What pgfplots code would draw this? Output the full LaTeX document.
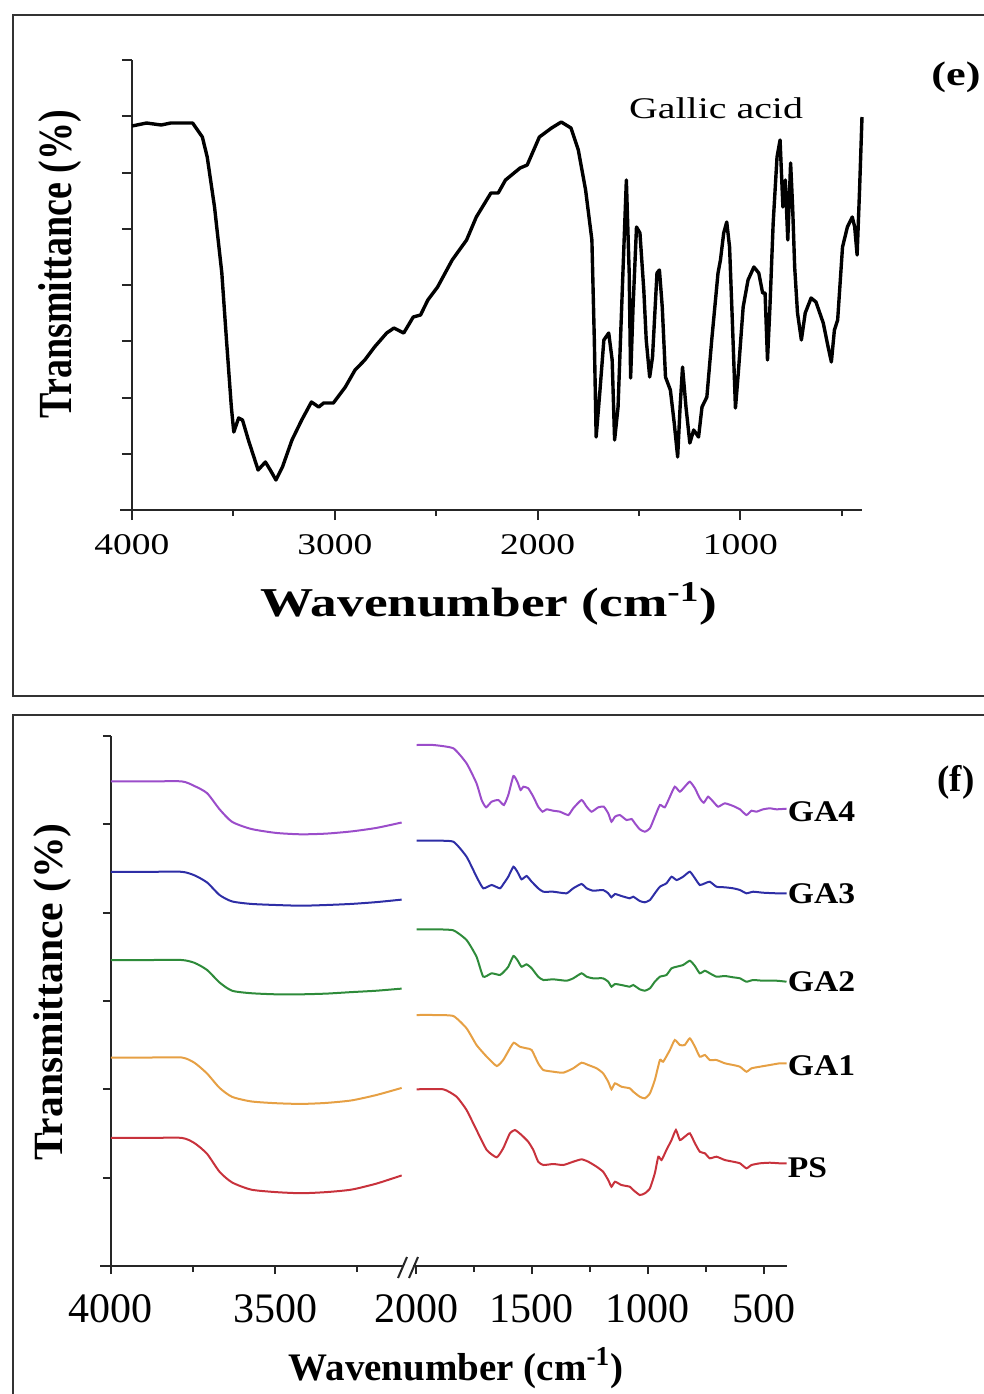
\documentclass[border=0pt]{standalone}
\usepackage{pgfplots}
\pgfplotsset{compat=1.18}
\usepackage{fontspec}
\setmainfont{Liberation Serif}
\usepackage{graphicx}
\definecolor{cGAfour}{HTML}{9B4DCA}
\definecolor{cGAthree}{HTML}{2E2EA6}
\definecolor{cGAtwo}{HTML}{2E8B3A}
\definecolor{cGAone}{HTML}{E6A044}
\definecolor{cPS}{HTML}{C8323C}
\definecolor{axc}{HTML}{262626}
\newcommand{\fsz}[1]{\fontsize{#1}{#1}\selectfont}
\pgfplotsset{
  ftstyle/.style={scale only axis, x dir=reverse,
    axis x line*=bottom,
    axis line style={line width=1.1pt, axc},
    tick align=outside, major tick length=4pt, minor tick length=3pt,
    tick style={line width=1pt, axc},
    clip=false}
}
\begin{document}
\begin{tikzpicture}
\useasboundingbox (0,0) rectangle (492pt,-697pt);
% frames
\begin{scope}[x=0.5pt,y=-0.5pt]
\draw[line width=1pt, black!80] (990,15) -- (13,15) -- (13,696) -- (990,696);
\draw[line width=1pt, black!80] (990,715) -- (13,715) -- (13,1400);
\end{scope}

% ---------------- panel (e)
\begin{axis}[ftstyle, at={(66pt,-255pt)}, anchor=south west,
  width=365pt, height=225pt,
  xmin=400, xmax=4000, ymin=0, ymax=450,
  axis y line*=left,
  xtick={1000,2000,3000,4000}, minor xtick={500,1500,2500,3500},
  xticklabels={\scalebox{1.25}[1]{1000},\scalebox{1.25}[1]{2000},\scalebox{1.25}[1]{3000},\scalebox{1.25}[1]{4000}},
  xticklabel style={font=\fsz{15pt}, anchor=north, inner sep=0pt, yshift=-7pt},
  ytick={0,56.25,112.5,168.75,225,281.25,337.5,393.75,450}, yticklabels={},
  major tick length=5pt]
\addplot[black, line width=1.7pt, line join=round] coordinates {
(4000,384) (3928,387) (3856,385) (3809,387) (3701,387) (3653,373) (3629,353)
(3593,303) (3557,237) (3534,170) (3510,103) (3498,78) (3474,92) (3455,90)
(3426,70) (3378,40) (3342,48) (3318,40) (3290,30) (3258,43) (3211,70)
(3163,90) (3115,108) (3079,103) (3055,107) (3007,107) (2948,123) (2900,140)
(2852,150) (2804,163) (2744,177) (2708,182) (2660,177) (2613,193) (2577,195)
(2541,210) (2493,223) (2421,250) (2350,270) (2302,293) (2230,317) (2194,317)
(2158,330) (2086,342) (2051,345) (1991,373) (1931,382) (1883,388) (1835,382)
(1799,360) (1763,320) (1732,270) (1720,170) (1711,73) (1692,120) (1673,170)
(1649,177) (1632,150) (1620,70) (1603,103) (1579,237) (1562,330) (1548,237)
(1541,132) (1529,203) (1512,283) (1495,277) (1476,220) (1464,170) (1447,133)
(1433,153) (1411,237) (1399,240) (1385,203) (1369,133) (1345,120) (1326,87)
(1309,53) (1297,103) (1285,143) (1268,103) (1249,67) (1230,80) (1206,73)
(1189,103) (1165,113) (1141,170) (1110,237) (1098,250) (1082,277) (1067,288)
(1053,263) (1039,187) (1024,102) (1010,137) (986,203) (962,230) (933,243)
(909,237) (890,217) (878,217) (866,150) (854,203) (838,287) (819,353)
(804,370) (790,303) (778,330) (766,270) (752,347) (742,303) (732,243)
(718,197) (699,170) (680,197) (651,212) (627,208) (591,187) (567,163)
(551,148) (536,180) (520,190) (496,263) (472,283) (448,293) (436,283)
(424,255) (412,320) (400,393)
};
\draw[line width=1.1pt, axc] (axis cs:4000,0) -- (axis cs:4060,0);
\end{axis}

% ---------------- panel (f), left part
\begin{axis}[ftstyle, at={(55.5pt,-633pt)}, anchor=south west,
  width=146pt, height=265pt,
  xmin=3110, xmax=4000, ymin=0, ymax=530,
  axis y line*=left,
  xtick={3500,4000}, minor xtick={3250,3750},
  xticklabels={3500,4000},
  xticklabel style={font=\fsz{21pt}, anchor=north, inner sep=0pt, yshift=-10pt},
  ytick={0,88.33,176.67,265,353.33,441.67,530}, yticklabels={}]
\addplot[cGAfour, line width=1pt, smooth, tension=0.4] coordinates {
(4000,484.6) (3880,484.6) (3784,484.6) (3745,479.9) (3707,472.8) (3669,456.7) (3631,444.2)
(3573,437.1) (3497,433.1) (3420,431.7) (3344,432.4) (3267,434.6) (3191,438.1) (3114,443.5)};
\addplot[cGAthree, line width=1pt, smooth, tension=0.4] coordinates {
(4000,394.2) (3880,394.2) (3784,394.2) (3745,390.6) (3707,383.5) (3669,371.0) (3631,364.6)
(3573,362.1) (3497,361.0) (3420,360.3) (3344,361.0) (3267,362.1) (3191,363.9) (3114,366.4)};
\addplot[cGAtwo, line width=1pt, smooth, tension=0.4] coordinates {
(4000,306.0) (3880,306.0) (3784,306.0) (3745,303.1) (3707,296.0) (3669,283.5) (3631,275.3)
(3573,272.8) (3497,271.7) (3420,271.7) (3344,272.4) (3267,273.9) (3191,275.3) (3114,277.4)};
\addplot[cGAone, line width=1pt, smooth, tension=0.4] coordinates {
(4000,208.5) (3880,208.5) (3784,208.5) (3745,203.1) (3707,192.4) (3669,178.1) (3631,169.2)
(3573,164.6) (3497,162.8) (3420,162.1) (3344,163.1) (3267,165.6) (3191,171.0) (3114,178.1)};
\addplot[cPS, line width=1pt, smooth, tension=0.4] coordinates {
(4000,128.1) (3880,128.1) (3784,128.1) (3745,122.8) (3707,112.1) (3669,94.2) (3631,83.6)
(3573,76.4) (3497,73.9) (3420,72.8) (3344,73.9) (3267,76.4) (3191,82.4) (3114,90.6)};
\draw[line width=1.1pt, axc] (axis cs:4000,0) -- (axis cs:4034,0);
\end{axis}

% ---------------- panel (f), right part
\begin{axis}[ftstyle, at={(206.5pt,-633pt)}, anchor=south west,
  width=187pt, height=265pt,
  xmin=400, xmax=2013, ymin=0, ymax=530,
  axis y line=none,
  xtick={500,1000,1500,2000}, minor xtick={750,1250,1750},
  xticklabels={500,1000,1500,2000},
  xticklabel style={font=\fsz{21pt}, anchor=north, inner sep=0pt, yshift=-10pt}]
\addplot[cGAfour, line width=1pt, smooth, tension=0.3] coordinates {
(1997,521.0) (1925,521.0) (1839,517.7) (1782,502.7) (1739,482.7) (1717,466.0) (1698,458.7)
(1674,464.3) (1645,466.0) (1621,461.0) (1602,471.0) (1580,490.0) (1563,484.3) (1549,476.0)
(1537,479.3) (1516,477.7) (1494,469.3) (1473,459.3) (1454,454.3) (1437,456.7) (1408,455.3)
(1379,454.3) (1343,451.0) (1322,457.7) (1286,466.0) (1264,459.3) (1243,454.3) (1214,458.7)
(1190,459.3) (1171,452.7) (1157,444.3) (1142,449.3) (1121,451.0) (1092,446.0) (1070,447.0)
(1056,442.7) (1035,436.7) (1013,434.3) (991,437.7) (970,449.3) (948,461.0) (927,458.7)
(905,469.3) (884,479.3) (862,474.3) (841,479.3) (819,484.3) (797,477.7) (776,467.7)
(759,463.3) (740,469.3) (718,464.3) (697,459.3) (668,462.7) (632,460.0) (603,456.7)
(575,451.0) (553,455.3) (532,454.3) (503,456.7) (474,457.7) (445,456.7) (402,457.3)};
\addplot[cGAthree, line width=1pt, smooth, tension=0.3] coordinates {
(1997,425.3) (1925,425.3) (1839,424.3) (1782,409.3) (1739,389.3) (1710,377.7) (1674,381.0)
(1638,377.7) (1621,382.7) (1602,389.3) (1580,399.3) (1563,394.3) (1545,386.7) (1523,390.0)
(1501,384.3) (1473,377.7) (1451,374.3) (1408,374.3) (1351,372.7) (1322,377.7) (1286,382.0)
(1264,377.7) (1236,375.3) (1193,376.0) (1171,372.7) (1157,368.7) (1142,372.0) (1114,370.0)
(1078,367.7) (1063,369.3) (1035,365.0) (1013,363.7) (991,366.0) (970,372.7) (948,379.3)
(920,382.7) (898,389.3) (876,386.0) (848,389.3) (819,394.3) (797,387.7) (776,381.0)
(754,382.7) (733,384.3) (704,379.3) (668,378.7) (632,377.7) (603,376.0) (575,372.7)
(546,374.3) (503,373.3) (445,372.7) (402,372.7)};
\addplot[cGAtwo, line width=1pt, smooth, tension=0.3] coordinates {
(1997,336.7) (1925,336.7) (1839,335.7) (1782,326.0) (1739,309.3) (1710,289.3) (1674,292.7)
(1638,291.0) (1621,294.3) (1602,299.3) (1580,310.0) (1563,306.0) (1545,299.3) (1523,301.7)
(1501,297.7) (1473,289.3) (1451,286.0) (1408,286.7) (1351,285.3) (1322,287.7) (1286,292.7)
(1264,289.3) (1236,287.7) (1193,287.7) (1171,284.3) (1157,279.3) (1142,282.0) (1114,281.0)
(1078,279.3) (1063,281.0) (1035,276.7) (1013,275.3) (991,277.7) (970,284.3) (948,289.3)
(920,291.0) (898,297.7) (876,299.3) (848,301.0) (819,305.3) (797,300.0) (776,292.7)
(754,295.3) (733,292.7) (704,289.3) (668,290.0) (632,288.7) (603,287.7) (575,284.3)
(546,286.0) (503,285.3) (445,285.3) (402,284.3)};
\addplot[cGAone, line width=1pt, smooth, tension=0.3] coordinates {
(1997,251.0) (1925,251.0) (1839,250.0) (1782,237.7) (1739,221.0) (1695,209.3) (1652,200.0)
(1624,206.0) (1595,217.7) (1578,223.3) (1552,219.3) (1523,217.7) (1501,216.0) (1473,202.7)
(1451,196.0) (1408,194.3) (1365,193.3) (1322,197.7) (1286,203.3) (1257,201.0) (1221,197.7)
(1193,192.7) (1171,184.3) (1157,176.7) (1142,182.7) (1114,179.3) (1078,177.7) (1063,174.3)
(1035,169.3) (1013,167.7) (991,172.7) (970,186.0) (948,206.0) (934,204.3) (905,216.0)
(884,226.0) (862,221.0) (841,221.0) (819,227.7) (797,219.3) (776,209.3) (754,211.0)
(733,206.0) (704,206.0) (668,202.7) (632,201.0) (603,199.3) (575,194.3) (553,197.7)
(517,199.3) (474,201.0) (431,202.7) (402,202.7)};
\addplot[cPS, line width=1pt, smooth, tension=0.3] coordinates {
(1997,176.7) (1882,176.7) (1825,169.3) (1782,156.0) (1739,136.0) (1695,116.0) (1652,108.7)
(1624,117.7) (1595,132.7) (1573,136.0) (1545,131.0) (1516,124.3) (1494,116.0) (1473,104.3)
(1451,101.0) (1408,102.0) (1365,101.0) (1322,104.3) (1286,106.7) (1257,104.3) (1221,99.3)
(1193,94.3) (1171,86.0) (1157,79.3) (1142,84.3) (1114,81.0) (1078,79.3) (1063,76.0)
(1035,71.0) (1013,72.7) (991,77.7) (970,92.7) (955,109.3) (941,106.0) (920,116.0)
(898,126.0) (879,136.0) (862,126.0) (841,129.3) (819,132.7) (797,122.7) (776,114.3)
(754,112.7) (733,107.7) (704,109.3) (668,106.0) (632,104.3) (603,102.7) (575,97.7)
(553,101.0) (517,102.7) (474,103.3) (431,102.7) (402,102.7)};
\begin{scope}[every node/.style={anchor=west, inner sep=0.5pt, font=\fsz{15pt}\bfseries}]
\node at (axis cs:402,454) {\scalebox{1.12}[1]{GA4}};
\node at (axis cs:402,372) {\scalebox{1.12}[1]{GA3}};
\node at (axis cs:402,284) {\scalebox{1.12}[1]{GA2}};
\node at (axis cs:402,200) {\scalebox{1.12}[1]{GA1}};
\node at (axis cs:402,98) {\scalebox{1.12}[1]{PS}};
\end{scope}
\end{axis}

% ---------------- texts and break marks
\begin{scope}[x=0.5pt,y=-0.5pt]
\draw[line width=1pt, axc] (398,1278) -- (407,1257);
\draw[line width=1pt, axc] (409,1278) -- (418,1257);
\node[font=\fsz{20.5pt}\bfseries] at (489,604) {\scalebox{1.3}[1]{Wavenumber (cm\textsuperscript{-1})}};
\node[font=\fsz{19pt}\bfseries, rotate=90] at (60,264) {\scalebox{1}[1.25]{Transmittance (\%)}};
\node[font=\fsz{15pt}] at (716,108) {\scalebox{1.33}[1]{Gallic acid}};
\node[font=\fsz{17pt}\bfseries, inner sep=0pt] at (956,77) {\scalebox{1.3}[1]{(e)}};
\node[font=\fsz{19.5pt}\bfseries] at (456,1368) {Wavenumber (cm\textsuperscript{-1})};
\node[font=\fsz{20.8pt}\bfseries, rotate=90] at (52,992) {Transmittance (\%)};
\node[font=\fsz{18.5pt}\bfseries] at (956,782) {(f)};
\end{scope}
\end{tikzpicture}
\end{document}
